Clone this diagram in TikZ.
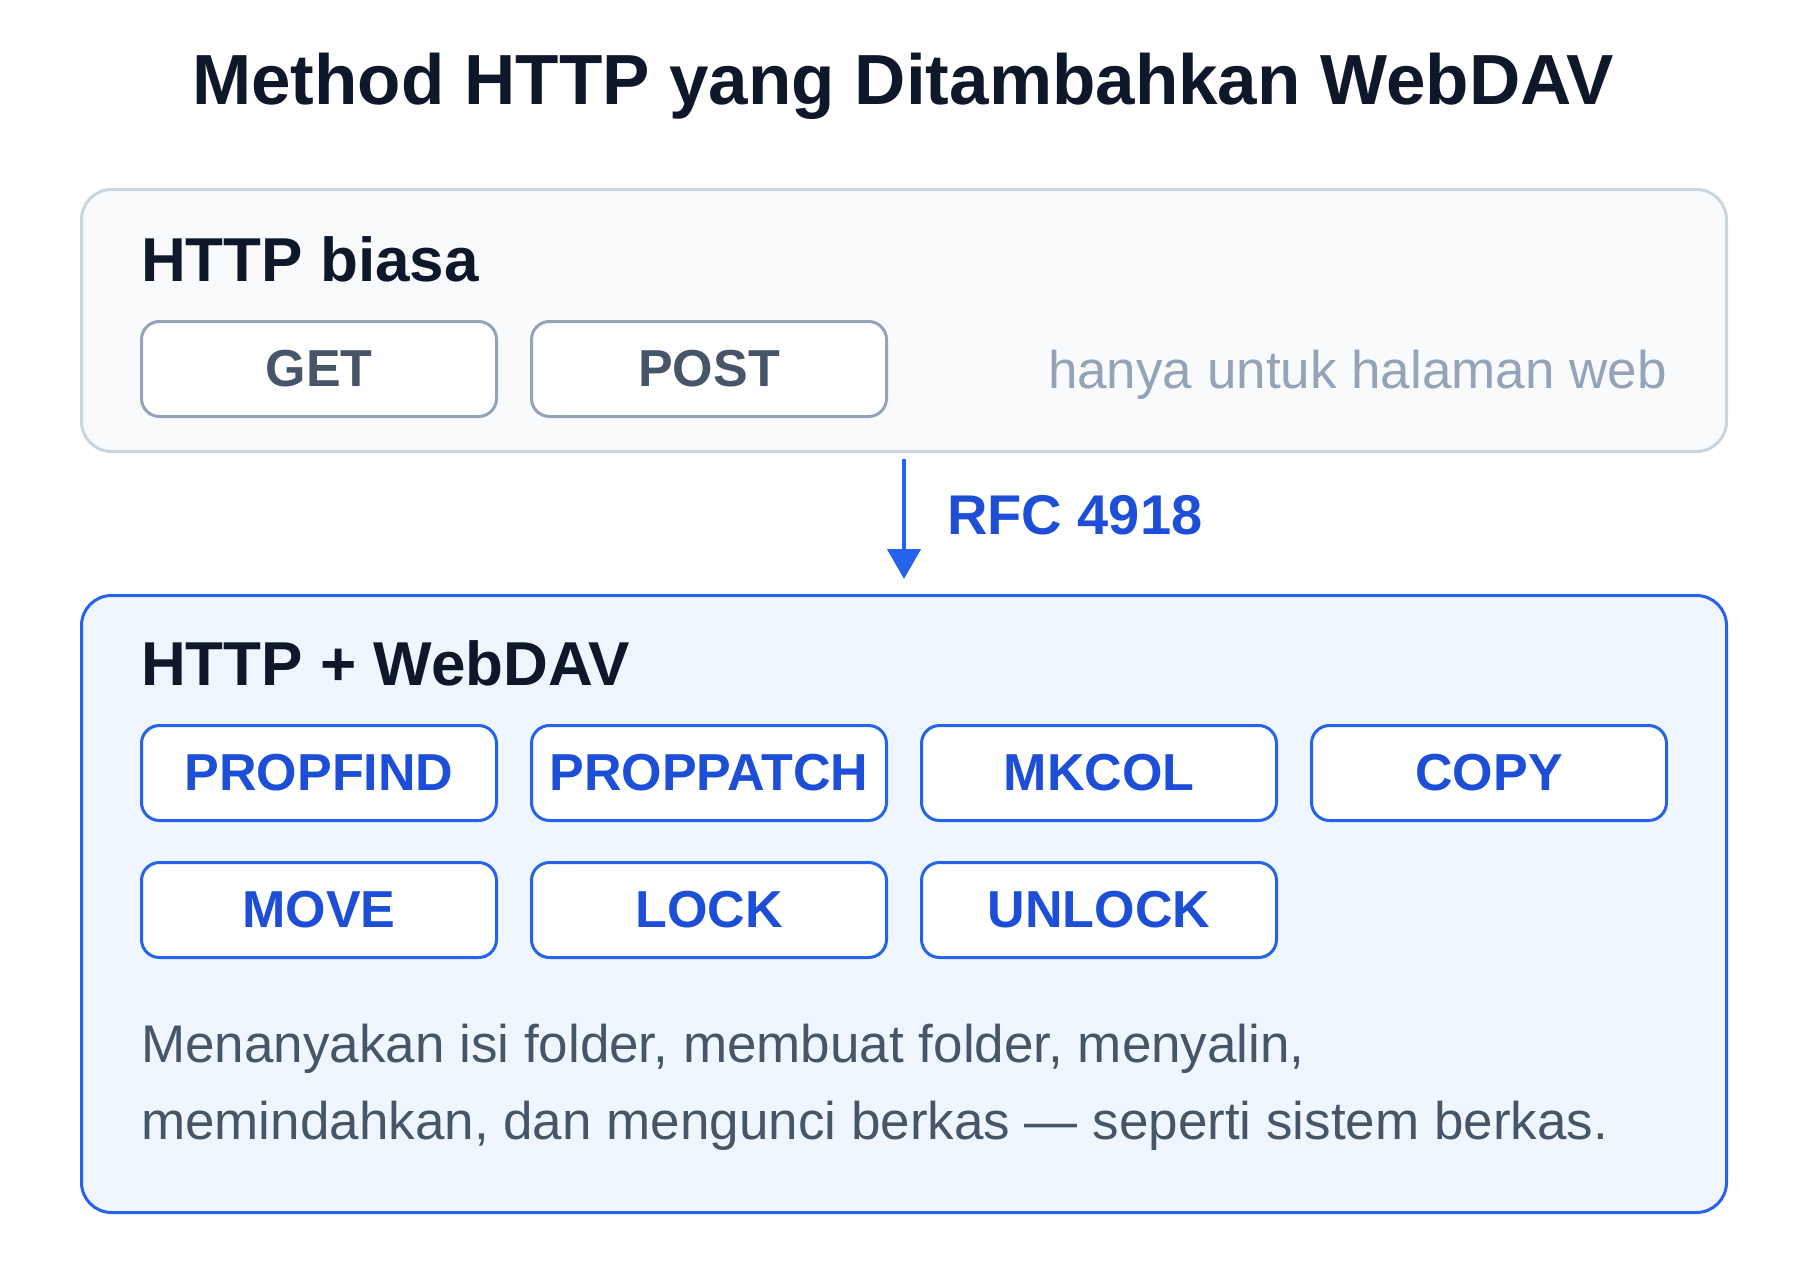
\documentclass[tikz,border=0pt]{standalone}
\usepackage{fontspec}
\setmainfont{Liberation Sans}
\usepackage{tikz}
\usetikzlibrary{arrows.meta,positioning}
\definecolor{ink}{HTML}{0F172A}
\definecolor{plainfill}{HTML}{F8FAFC}
\definecolor{plainline}{HTML}{CBD5E1}
\definecolor{oldline}{HTML}{94A3B8}
\definecolor{oldtext}{HTML}{475569}
\definecolor{mutedtext}{HTML}{94A3B8}
\definecolor{davfill}{HTML}{EFF6FF}
\definecolor{davline}{HTML}{2563EB}
\definecolor{davtext}{HTML}{1D4ED8}

\begin{document}
\begin{tikzpicture}[x=1pt,y=-1pt,
  panel/.style={draw, line width=3pt, rounded corners=30pt, minimum width=1645pt},
  plainpanel/.style={panel, draw=plainline, fill=plainfill, minimum height=262pt},
  davpanel/.style={panel, draw=davline, fill=davfill, minimum height=617pt},
  method/.style={draw, line width=3pt, rounded corners=18pt, fill=white,
    minimum width=355pt, minimum height=95pt, inner sep=0pt,
    font=\fontsize{52}{62}\selectfont\bfseries},
  oldmethod/.style={method, draw=oldline, text=oldtext},
  newmethod/.style={method, draw=davline, text=davtext},
  heading/.style={anchor=base west, inner sep=0pt, text=ink,
    font=\fontsize{62}{74}\selectfont\bfseries},
  note/.style={inner sep=0pt, font=\fontsize{53}{64}\selectfont},
  node distance=32pt
]
  \useasboundingbox (0,0) rectangle (1800,1280);

  % title
  \node[anchor=base, inner sep=0pt, text=ink, font=\fontsize{71}{85}\selectfont\bfseries]
    (title) at (903,104) {Method HTTP yang Ditambahkan WebDAV};

  % plain HTTP
  \node[plainpanel] (plain) at (904,320.5) {};
  \node[heading] (plainhead) at (141,281) {HTTP biasa};
  \node[oldmethod] (get) at (319,369) {GET};
  \node[oldmethod, right=of get] (post) {POST};
  \node[note, anchor=base east, text=mutedtext] (webonly) at (1667,388)
    {hanya untuk halaman web};

  % HTTP + WebDAV
  \node[davpanel] (dav) at (904,904) {};
  \node[heading] (davhead) at (141,685) {HTTP + WebDAV};
  \node[newmethod] (propfind) at (319,773) {PROPFIND};
  \node[newmethod, right=of propfind] (proppatch) {PROPPATCH};
  \node[newmethod, right=of proppatch] (mkcol) {MKCOL};
  \node[newmethod, right=of mkcol] (copy) {COPY};
  \node[newmethod] (move) at (319,910) {MOVE};
  \node[newmethod, right=of move] (lock) {LOCK};
  \node[newmethod, right=of lock] (unlock) {UNLOCK};
  \node[note, anchor=base west, text=oldtext] (desca) at (141,1062)
    {Menanyakan isi folder, membuat folder, menyalin,};
  \node[note, anchor=base west, text=oldtext] (descb) at (141,1139)
    {memindahkan, dan mengunci berkas — seperti sistem berkas.};

  % extension arrow
  \draw[davline, line width=4.5pt, shorten <=6pt, shorten >=15pt,
    -{Triangle[length=30pt,width=33pt]}] (plain.south) -- (dav.north)
    node[midway, right=41pt, yshift=8pt, inner sep=0pt, text=davtext,
      font=\fontsize{56}{67}\selectfont\bfseries] (rfc) {RFC 4918};
\end{tikzpicture}
\end{document}
